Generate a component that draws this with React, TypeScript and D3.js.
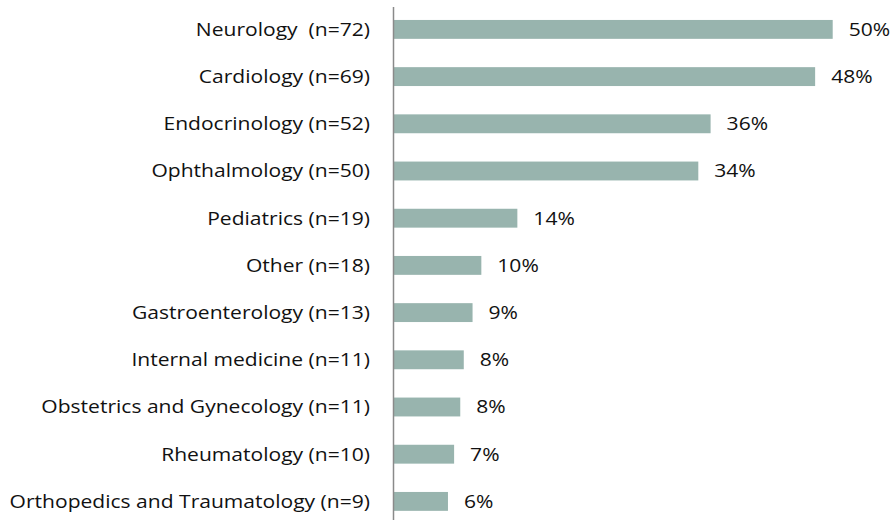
import React from 'react';
import * as d3 from 'd3';

// categories, values (percent) and printed labels
const categories = [
  'Neurology  (n=72)',
  'Cardiology (n=69)',
  'Endocrinology (n=52)',
  'Ophthalmology (n=50)',
  'Pediatrics (n=19)',
  'Other (n=18)',
  'Gastroenterology (n=13)',
  'Internal medicine (n=11)',
  'Obstetrics and Gynecology (n=11)',
  'Rheumatology (n=10)',
  'Orthopedics and Traumatology (n=9)',
];
const values = [50, 48, 36.1, 34.7, 14.1, 10, 9, 8, 7.6, 6.9, 6.2];
const valueLabels = ['50%', '48%', '36%', '34%', '14%', '10%', '9%', '8%', '8%', '7%', '6%'];

const BAR_COLOR = '#98b4ae';
const AXIS_COLOR = '#8a8a8a';
const FONT = '"Open Sans", sans-serif';
const FONT_SIZE = 18;
const STRETCH = 1.17; // the reference text is wider than the font draws it

const App = () => {
  const width = 893, height = 520;
  const x0 = 393.5;

  const x = d3.scaleLinear().domain([0, 50]).range([x0, 832.7]);
  const y = d3.scaleBand()
    .domain(categories)
    .range([5.8, 525])
    .paddingInner(0.6)
    .paddingOuter(0.3);

  return (
    <svg
      width={width}
      height={height}
      style={{ position: 'absolute', left: 0, top: 0, background: '#fff' }}
      fontFamily={FONT}
    >
      {categories.map((c, i) => {
        const yb = y(c) as number;
        const cy = yb + y.bandwidth() / 2;
        return (
          <g key={c}>
            <rect x={x(0)} y={yb} width={x(values[i]) - x(0)} height={y.bandwidth()} fill={BAR_COLOR} />
            <text
              transform={`translate(370,${cy}) scale(${STRETCH},1)`}
              dy="0.36em"
              textAnchor="end"
              fontSize={FONT_SIZE}
              fill="#111"
              xmlSpace="preserve"
            >
              {c}
            </text>
            <text
              transform={`translate(${x(values[i]) + 16},${cy}) scale(${STRETCH},1)`}
              dy="0.36em"
              fontSize={FONT_SIZE}
              fill="#111"
            >
              {valueLabels[i]}
            </text>
          </g>
        );
      })}
      <line x1={x0} x2={x0} y1={7} y2={height} stroke={AXIS_COLOR} strokeWidth={1.5} />
    </svg>
  );
};

export default App;
